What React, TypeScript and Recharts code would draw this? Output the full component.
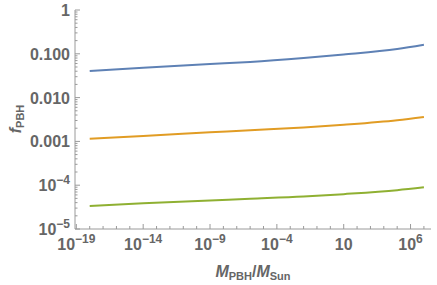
import { LineChart, Line, XAxis, YAxis } from 'recharts';

// masses in solar units (x) and f_PBH for the three curves
const masses = [1e-18, 1e-14, 1e-9, 1e-6, 1e-2, 10, 1e5, 1e7];
const blue = [0.0405, 0.0482, 0.0585, 0.0652, 0.08, 0.096, 0.1285, 0.161];
const orange = [0.00115, 0.00133, 0.00161, 0.0018, 0.00208, 0.0024, 0.00304, 0.0036];
const green = [3.35e-5, 3.85e-5, 4.5e-5, 4.9e-5, 5.5e-5, 6.25e-5, 7.7e-5, 8.95e-5];

const xTicks = Array.from({ length: 27 }, (_, i) => Math.pow(10, i - 19));
const yTicks: number[] = [];
for (let d = -5; d <= 0; d++) {
  yTicks.push(Math.pow(10, d));
  if (d < 0) for (let k = 2; k <= 9; k++) yTicks.push(k * Math.pow(10, d));
}
const yLabels: Record<number, string> = { 0: '1', [-1]: '0.100', [-2]: '0.010', [-3]: '0.001' };

const data = masses.map((m, i) => ({ m, blue: blue[i], orange: orange[i], green: green[i] }));

const TEXT = '#666666';
const FRAME = '#9a9a9a';
const FONT = '"Liberation Sans", Arial, sans-serif';
const MARGIN = 2;

const exp = (v: number) => Math.log10(v);
const isDecade = (v: number) => Math.abs(exp(v) - Math.round(exp(v))) < 1e-6;
const sup = (e: number) => (e < 0 ? '\u2212' + Math.abs(e) : String(e));

function BottomTick(props: any) {
  const { x, y, payload } = props;
  const ay = y - MARGIN;
  const e = Math.round(exp(payload.value));
  const major = (e + 19) % 5 === 0;
  return (
    <g>
      <line x1={x} x2={x} y1={ay} y2={ay - (major ? 5 : 3)} stroke={FRAME} />
      {major && (
        <text x={x} y={ay + 21} textAnchor="middle" fill={TEXT} fontFamily={FONT} fontWeight="bold" fontSize={16}>
          {e === 1 ? (
            '10'
          ) : (
            <>
              10
              <tspan dy={-7} fontSize={12}>{sup(e)}</tspan>
            </>
          )}
        </text>
      )}
    </g>
  );
}

function TopTick(props: any) {
  const { x, y, payload } = props;
  const ay = y + MARGIN;
  const e = Math.round(exp(payload.value));
  const major = (e + 19) % 5 === 0;
  return <line x1={x} x2={x} y1={ay} y2={ay + (major ? 5 : 3)} stroke={FRAME} />;
}

function LeftTick(props: any) {
  const { x, y, payload } = props;
  const ax = x + MARGIN;
  const v = payload.value;
  const major = isDecade(v);
  const e = Math.round(exp(v));
  return (
    <g>
      <line x1={ax} x2={ax + (major ? 5 : 2.5)} y1={y} y2={y} stroke={FRAME} />
      {major && (
        <text x={ax - 5} y={y + 6} textAnchor="end" fill={TEXT} fontFamily={FONT} fontWeight="bold" fontSize={16}>
          {yLabels[e] !== undefined ? (
            yLabels[e]
          ) : (
            <>
              10
              <tspan dy={-7} fontSize={12}>{sup(e)}</tspan>
            </>
          )}
        </text>
      )}
    </g>
  );
}

function RightTick(props: any) {
  const { x, y, payload } = props;
  const ax = x - MARGIN;
  const major = isDecade(payload.value);
  return <line x1={ax} x2={ax - (major ? 5 : 2.5)} y1={y} y2={y} stroke={FRAME} />;
}

const XTitle = (props: any) => {
  const vb = props.viewBox;
  return (
    <text x={vb.x + vb.width / 2} y={vb.y + 48} textAnchor="middle" fill={TEXT} fontFamily={FONT} fontWeight="bold" fontSize={16}>
      <tspan fontStyle="italic">M</tspan>
      <tspan fontSize={11} dy={3}>PBH</tspan>
      <tspan dy={-3}>/</tspan>
      <tspan fontStyle="italic">M</tspan>
      <tspan fontSize={11} dy={3}>Sun</tspan>
    </text>
  );
};

const YTitle = () => (
  <text transform="translate(21,119) rotate(-90)" textAnchor="middle" fill={TEXT} fontFamily={FONT} fontWeight="bold" fontSize={16}>
    <tspan fontStyle="italic">f</tspan>
    <tspan fontSize={11} dy={3}>PBH</tspan>
  </text>
);

export default function App() {
  return (
    <div style={{ position: 'absolute', left: 0, top: 0, background: '#fff' }}>
      <LineChart width={437} height={285} data={data} margin={{ top: 10, right: 6, bottom: 0, left: 0 }}>
        <XAxis
          xAxisId="b"
          dataKey="m"
          type="number"
          scale="log"
          domain={[Math.pow(10, -19.1), Math.pow(10, 7.53)]}
          allowDataOverflow
          ticks={xTicks}
          interval={0}
          height={56}
          tickSize={0}
          tickMargin={MARGIN}
          tick={<BottomTick />}
          stroke={FRAME}
          label={{ content: <XTitle /> }}
        />
        <XAxis
          xAxisId="t"
          orientation="top"
          dataKey="m"
          type="number"
          scale="log"
          domain={[Math.pow(10, -19.1), Math.pow(10, 7.53)]}
          allowDataOverflow
          ticks={xTicks}
          interval={0}
          height={0}
          tickSize={0}
          tickMargin={MARGIN}
          tick={<TopTick />}
          stroke={FRAME}
        />
        <YAxis
          yAxisId="l"
          type="number"
          scale="log"
          domain={[1e-5, 1]}
          allowDataOverflow
          ticks={yTicks}
          interval={0}
          width={75}
          tickSize={0}
          tickMargin={MARGIN}
          tick={<LeftTick />}
          stroke={FRAME}
          label={{ content: <YTitle /> }}
        />
        <YAxis
          yAxisId="r"
          orientation="right"
          type="number"
          scale="log"
          domain={[1e-5, 1]}
          allowDataOverflow
          ticks={yTicks}
          interval={0}
          width={0}
          tickSize={0}
          tickMargin={MARGIN}
          tick={<RightTick />}
          stroke={FRAME}
        />
        <Line xAxisId="b" yAxisId="l" type="monotone" dataKey="blue" stroke="#5E81B5" strokeWidth={2} dot={false} isAnimationActive={false} />
        <Line xAxisId="b" yAxisId="l" type="monotone" dataKey="orange" stroke="#E19C24" strokeWidth={2} dot={false} isAnimationActive={false} />
        <Line xAxisId="b" yAxisId="l" type="monotone" dataKey="green" stroke="#8FB032" strokeWidth={2} dot={false} isAnimationActive={false} />
      </LineChart>
    </div>
  );
}
